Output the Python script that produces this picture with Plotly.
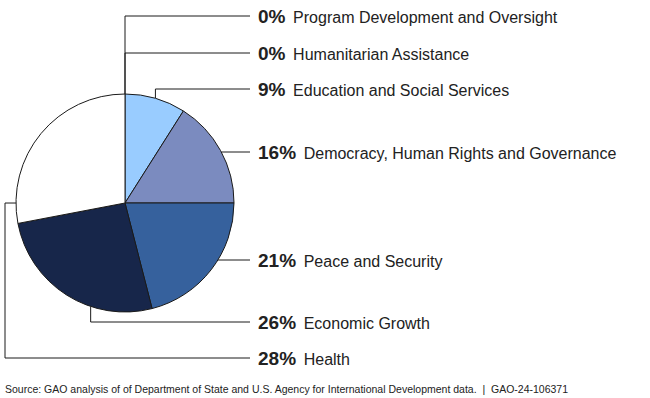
import math
import plotly.graph_objects as go

# ---- data ----
categories = ["Program Development and Oversight", "Humanitarian Assistance",
              "Education and Social Services", "Democracy, Human Rights and Governance",
              "Peace and Security", "Economic Growth", "Health"]
percents = [0, 0, 9, 16, 21, 26, 28]
colors = ["#99CCFF", "#99CCFF", "#99CCFF", "#7B8BBF", "#36619D", "#17264A", "#FFFFFF"]
source_text = ("Source: GAO analysis of of Department of State and U.S. Agency for "
               "International Development data.  |  GAO-24-106371")

# ---- layout geometry (pixels) ----
W, H = 650, 398
CX, CY, R = 125, 203, 109
LABEL_Y = [16, 53, 89, 152, 260, 322, 358]
LINE_END_X = 250
TEXT_X = 256
# leader style: 'vert' = up/down from anchor then right; 'horiz' = straight right; 'wrap' = left, down, right
LEADER = ["vert", "vert", "vert", "horiz", "horiz", "vert", "wrap"]
ANCHOR_FRAC = [0.5, 0.5, 0.5, 0.5, 0.5, 0.35, 0.107]

fig = go.Figure()

fig.add_trace(go.Pie(
    values=percents, labels=categories, sort=False, direction="clockwise", rotation=0,
    marker=dict(colors=colors, line=dict(color="#1a1a1a", width=1)),
    textinfo="none", hoverinfo="label+value", showlegend=False,
    domain=dict(x=[(CX - R) / W, (CX + R) / W], y=[(H - CY - R) / H, (H - CY + R) / H]),
))

total = sum(percents)
cum = 0
for i, (cat, p) in enumerate(zip(categories, percents)):
    start = cum
    cum += p
    frac = (start + ANCHOR_FRAC[i] * p) / total
    ang = 2 * math.pi * frac
    ax = CX + R * math.sin(ang)
    ay = CY - R * math.cos(ang)
    ly = LABEL_Y[i]
    if LEADER[i] == "vert":
        xs, ys = [ax, ax, LINE_END_X], [ay, ly, ly]
    elif LEADER[i] == "horiz":
        dy = ly - CY
        ix = CX + math.sqrt(max(R * R - dy * dy, 0))
        xs, ys = [ix, LINE_END_X], [ly, ly]
    else:
        xs, ys = [ax, 5, 5, LINE_END_X], [ay, ay, ly, ly]
    fig.add_trace(go.Scatter(x=xs, y=ys, mode="lines", line=dict(color="#1a1a1a", width=1),
                             hoverinfo="skip", showlegend=False, xaxis="x", yaxis="y"))
    fig.add_annotation(
        x=TEXT_X, y=ly, xref="x", yref="y", xanchor="left", yanchor="middle", showarrow=False,
        text=f"<span style='font-size:19px;font-weight:bold'>{p}%</span>\u2009 {cat}",
        font=dict(family="Liberation Sans, Arial, sans-serif", size=16, color="#222222"),
    )

fig.add_annotation(
    x=3, y=389, xref="x", yref="y", xanchor="left", yanchor="middle", showarrow=False,
    text=source_text,
    font=dict(family="Liberation Sans, Arial, sans-serif", size=10.5, color="#222222"),
)

fig.update_layout(
    width=W, height=H, margin=dict(l=0, r=0, t=0, b=0),
    paper_bgcolor="white", plot_bgcolor="rgba(0,0,0,0)",
    xaxis=dict(range=[0, W], visible=False, fixedrange=True, domain=[0, 1]),
    yaxis=dict(range=[H, 0], visible=False, fixedrange=True, domain=[0, 1]),
    showlegend=False,
)

fig.write_html("out.html", config={"displayModeBar": False},
               post_script="document.body.style.margin='0';document.body.style.overflow='hidden';")
